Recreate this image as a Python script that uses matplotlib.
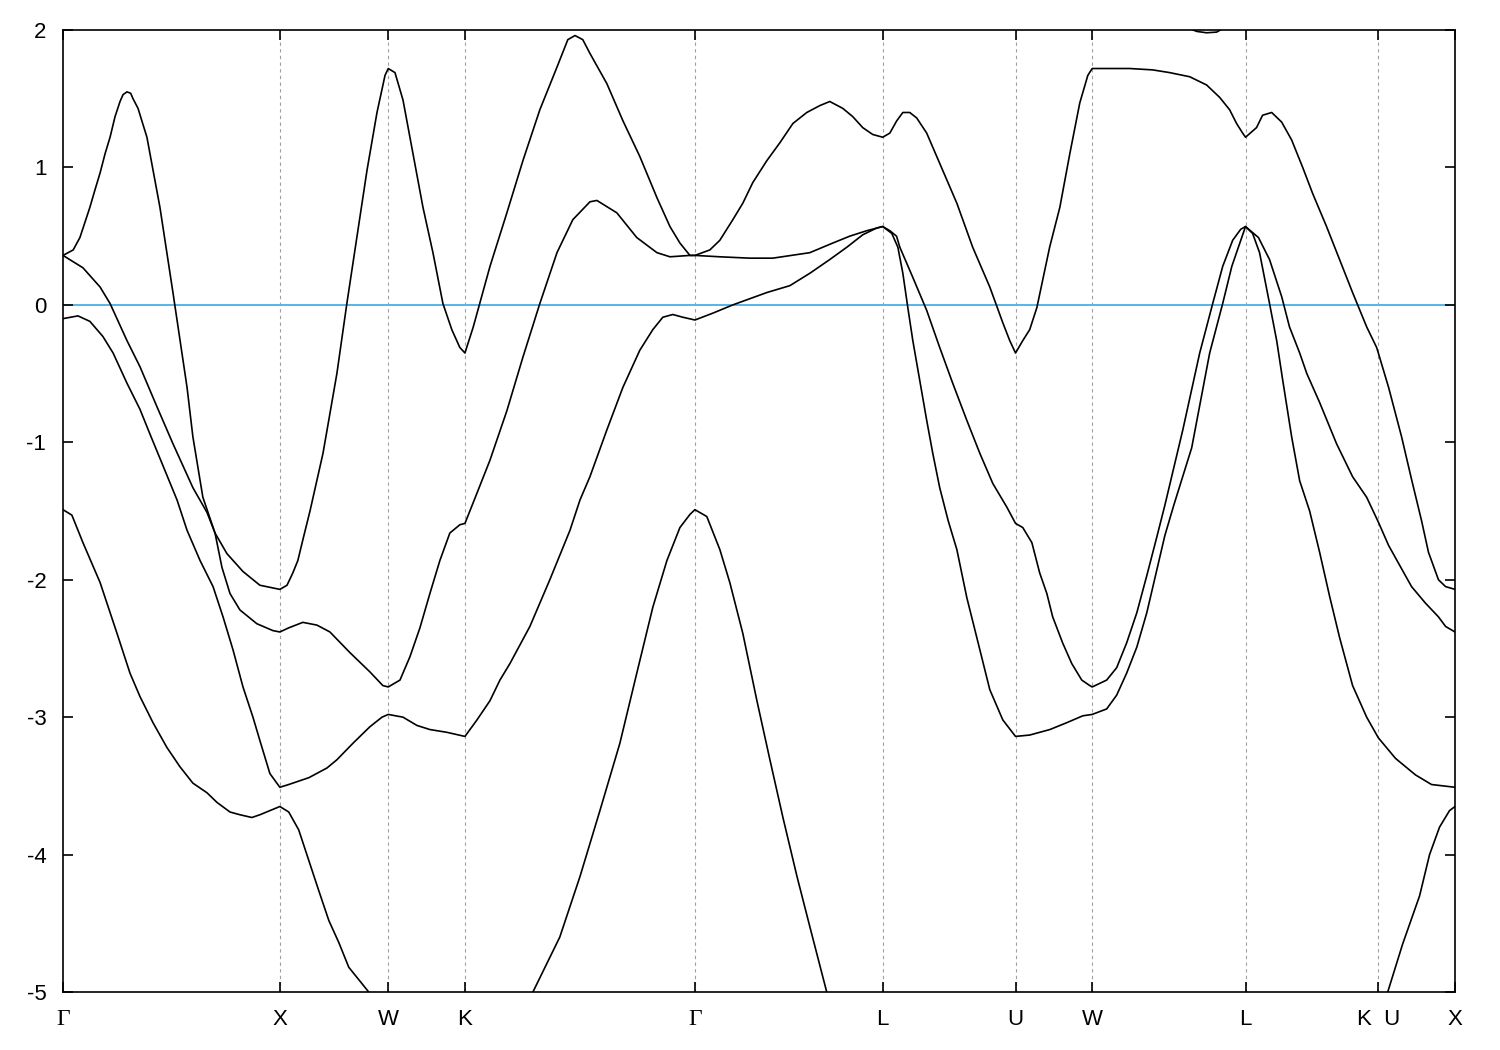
import numpy as np
import matplotlib
matplotlib.use('Agg')
import matplotlib.pyplot as plt

plt.rcParams['font.family'] = ['Liberation Sans', 'DejaVu Sans']
plt.rcParams['axes.unicode_minus'] = False

# high-symmetry points along the path (units of 2pi/a)
kpath_pos = [0.0, 1.0, 1.5, 1.8536, 2.9142, 3.7802, 4.3926, 4.7462, 5.4533, 6.0657, 6.4193]
kpath_lab = ['Γ', 'X', 'W', 'K', 'Γ', 'L', 'U', 'W', 'L', 'K  U', 'X']

# bands as (k, E) pairs; E in eV relative to E_F
band_a1 = [(0.0, -1.49), (0.041, -1.53), (0.092, -1.73), (0.171, -2.02), (0.249, -2.39), (0.309, -2.68),
           (0.355, -2.85), (0.415, -3.04), (0.479, -3.22), (0.539, -3.36), (0.599, -3.48), (0.664, -3.55),
           (0.710, -3.62), (0.770, -3.69), (0.816, -3.71), (0.871, -3.73), (0.908, -3.71), (0.954, -3.68),
           (1.0, -3.65), (1.041, -3.69), (1.087, -3.82), (1.133, -4.04), (1.179, -4.26), (1.226, -4.48),
           (1.272, -4.64), (1.318, -4.82), (1.364, -4.91), (1.410, -5.0)]
band_a2 = [(2.167, -5.0), (2.291, -4.60), (2.384, -4.16), (2.476, -3.68), (2.568, -3.19), (2.646, -2.68),
           (2.720, -2.20), (2.785, -1.86), (2.845, -1.62), (2.891, -1.525), (2.914, -1.49), (2.969, -1.54),
           (3.029, -1.78), (3.075, -2.02), (3.135, -2.39), (3.200, -2.88), (3.260, -3.31), (3.320, -3.73),
           (3.385, -4.16), (3.445, -4.53), (3.522, -5.0)]
band_a3 = [(6.109, -5.0), (6.178, -4.65), (6.256, -4.30), (6.302, -4.00), (6.348, -3.80), (6.394, -3.68),
           (6.4193, -3.65)]

band_b = [(0.0, -0.10), (0.069, -0.08), (0.124, -0.12), (0.184, -0.23), (0.231, -0.35), (0.295, -0.57),
          (0.355, -0.76), (0.401, -0.94), (0.461, -1.17), (0.526, -1.42), (0.572, -1.64), (0.632, -1.86),
          (0.692, -2.05), (0.738, -2.27), (0.784, -2.51), (0.830, -2.78), (0.876, -3.00), (0.908, -3.17),
          (0.954, -3.41), (1.0, -3.51),
          (1.041, -3.49), (1.134, -3.44), (1.217, -3.37), (1.263, -3.31), (1.337, -3.19), (1.415, -3.07),
          (1.471, -3.00), (1.5, -2.98), (1.568, -3.00), (1.632, -3.06), (1.692, -3.09), (1.770, -3.11),
          (1.8536, -3.14),
          (1.909, -3.02), (1.969, -2.88), (2.015, -2.73), (2.061, -2.61), (2.153, -2.34), (2.245, -2.00),
          (2.338, -1.64), (2.384, -1.42), (2.430, -1.25), (2.508, -0.91), (2.582, -0.60), (2.660, -0.33),
          (2.720, -0.18), (2.766, -0.09), (2.812, -0.07), (2.859, -0.09), (2.9142, -0.11),
          (2.997, -0.06), (3.089, 0.00), (3.246, 0.09), (3.352, 0.14), (3.444, 0.23), (3.536, 0.33),
          (3.615, 0.42), (3.688, 0.51), (3.753, 0.56), (3.7802, 0.57),
          (3.822, 0.52), (3.850, 0.42), (3.873, 0.23), (3.896, -0.02), (3.919, -0.26), (3.951, -0.55),
          (3.983, -0.84), (4.011, -1.08), (4.043, -1.33), (4.082, -1.57), (4.122, -1.78), (4.168, -2.13),
          (4.214, -2.42), (4.274, -2.80), (4.334, -3.02), (4.3926, -3.14),
          (4.458, -3.13), (4.551, -3.09), (4.629, -3.04), (4.703, -2.99), (4.7462, -2.98),
          (4.813, -2.94), (4.859, -2.84), (4.905, -2.68), (4.952, -2.49), (4.998, -2.24), (5.044, -1.93),
          (5.081, -1.68), (5.122, -1.46), (5.205, -1.04), (5.288, -0.35), (5.348, 0.01), (5.390, 0.28),
          (5.427, 0.45), (5.4533, 0.57),
          (5.486, 0.52), (5.518, 0.38), (5.564, 0.01), (5.597, -0.26), (5.625, -0.55), (5.666, -0.96),
          (5.703, -1.28), (5.749, -1.50), (5.795, -1.80), (5.841, -2.12), (5.887, -2.42), (5.947, -2.77),
          (6.012, -3.00), (6.0657, -3.15),
          (6.145, -3.30), (6.237, -3.42), (6.311, -3.49), (6.4193, -3.51)]

band_c = [(0.0, 0.36), (0.092, 0.27), (0.171, 0.13), (0.217, 0.01), (0.295, -0.26), (0.355, -0.45),
          (0.433, -0.74), (0.507, -1.01), (0.599, -1.33), (0.664, -1.51), (0.701, -1.66), (0.733, -1.91),
          (0.770, -2.10), (0.816, -2.22), (0.894, -2.32), (0.968, -2.37), (1.0, -2.38),
          (1.041, -2.35), (1.106, -2.31), (1.171, -2.33), (1.231, -2.38), (1.323, -2.53), (1.415, -2.67),
          (1.475, -2.77), (1.5, -2.78), (1.554, -2.73), (1.600, -2.56), (1.646, -2.35), (1.692, -2.10),
          (1.738, -1.86), (1.784, -1.66), (1.830, -1.60), (1.8536, -1.59),
          (1.909, -1.37), (1.969, -1.13), (2.047, -0.77), (2.121, -0.38), (2.199, 0.01), (2.278, 0.38),
          (2.351, 0.62), (2.430, 0.75), (2.462, 0.76), (2.554, 0.67), (2.646, 0.49), (2.739, 0.38),
          (2.799, 0.35), (2.891, 0.36), (2.9142, 0.36),
          (3.029, 0.35), (3.167, 0.34), (3.273, 0.34), (3.444, 0.38), (3.550, 0.45), (3.628, 0.50),
          (3.707, 0.54), (3.7802, 0.57),
          (3.813, 0.54), (3.844, 0.50), (3.859, 0.42), (3.919, 0.20), (3.983, -0.04), (4.043, -0.31),
          (4.103, -0.57), (4.168, -0.84), (4.228, -1.08), (4.288, -1.30), (4.352, -1.47), (4.3926, -1.59),
          (4.426, -1.62), (4.468, -1.73), (4.504, -1.95), (4.537, -2.10), (4.564, -2.27), (4.610, -2.46),
          (4.652, -2.61), (4.698, -2.73), (4.735, -2.77), (4.7462, -2.78),
          (4.813, -2.73), (4.859, -2.64), (4.905, -2.46), (4.952, -2.24), (4.998, -1.97), (5.044, -1.69),
          (5.081, -1.46), (5.164, -0.91), (5.242, -0.35), (5.302, 0.01), (5.348, 0.28), (5.394, 0.47),
          (5.431, 0.55), (5.4533, 0.57),
          (5.513, 0.49), (5.564, 0.33), (5.620, 0.06), (5.656, -0.16), (5.703, -0.35), (5.736, -0.50),
          (5.795, -0.71), (5.873, -1.01), (5.947, -1.25), (6.012, -1.40), (6.0657, -1.58),
          (6.113, -1.75), (6.173, -1.92), (6.219, -2.05), (6.283, -2.17), (6.343, -2.27), (6.376, -2.34),
          (6.4193, -2.38)]

band_d = [(0.0, 0.36), (0.047, 0.40), (0.078, 0.49), (0.101, 0.60), (0.124, 0.71), (0.148, 0.84),
          (0.171, 0.96), (0.194, 1.10), (0.217, 1.22), (0.240, 1.37), (0.263, 1.48), (0.277, 1.53),
          (0.295, 1.55), (0.312, 1.54), (0.323, 1.50), (0.346, 1.43), (0.387, 1.22), (0.415, 0.98),
          (0.447, 0.71), (0.479, 0.38), (0.507, 0.09), (0.539, -0.25), (0.572, -0.60), (0.599, -0.96),
          (0.645, -1.40), (0.701, -1.66), (0.756, -1.81), (0.830, -1.94), (0.908, -2.04), (1.0, -2.07),
          (1.033, -2.04), (1.060, -1.95), (1.083, -1.86), (1.106, -1.71), (1.139, -1.50), (1.199, -1.08),
          (1.263, -0.50), (1.309, 0.01), (1.355, 0.49), (1.402, 0.98), (1.448, 1.40), (1.485, 1.67),
          (1.5, 1.72), (1.531, 1.69), (1.568, 1.49), (1.614, 1.10), (1.660, 0.71), (1.706, 0.38),
          (1.752, 0.01), (1.793, -0.18), (1.830, -0.31), (1.8536, -0.35),
          (1.892, -0.16), (1.936, 0.09), (1.969, 0.28), (2.047, 0.67), (2.121, 1.05), (2.199, 1.42),
          (2.278, 1.73), (2.328, 1.93), (2.361, 1.96), (2.397, 1.93), (2.430, 1.83), (2.508, 1.61),
          (2.582, 1.34), (2.660, 1.08), (2.739, 0.78), (2.799, 0.57), (2.845, 0.45), (2.891, 0.36),
          (2.9142, 0.36),
          (2.983, 0.40), (3.029, 0.47), (3.089, 0.62), (3.135, 0.74), (3.181, 0.89), (3.246, 1.05),
          (3.306, 1.18), (3.366, 1.32), (3.430, 1.40), (3.490, 1.45), (3.536, 1.48), (3.596, 1.43),
          (3.642, 1.37), (3.688, 1.29), (3.734, 1.24), (3.7802, 1.22),
          (3.813, 1.25), (3.845, 1.34), (3.873, 1.40), (3.905, 1.40), (3.937, 1.36), (3.983, 1.25),
          (4.043, 1.03), (4.122, 0.74), (4.195, 0.42), (4.274, 0.13), (4.334, -0.13), (4.366, -0.26),
          (4.3926, -0.35),
          (4.426, -0.26), (4.458, -0.18), (4.491, -0.02), (4.518, 0.18), (4.550, 0.42), (4.597, 0.71),
          (4.643, 1.10), (4.689, 1.47), (4.726, 1.67), (4.7462, 1.72),
          (4.827, 1.72), (4.919, 1.72), (5.025, 1.71), (5.104, 1.69), (5.196, 1.66), (5.274, 1.60),
          (5.334, 1.51), (5.380, 1.42), (5.412, 1.32), (5.440, 1.25), (5.4533, 1.22),
          (5.504, 1.29), (5.532, 1.38), (5.574, 1.40), (5.620, 1.33), (5.666, 1.20), (5.717, 1.00),
          (5.763, 0.81), (5.827, 0.57), (5.887, 0.33), (5.947, 0.09), (6.012, -0.16), (6.058, -0.31),
          (6.0657, -0.35),
          (6.113, -0.60), (6.173, -0.96), (6.219, -1.27), (6.265, -1.57), (6.297, -1.80), (6.343, -2.00),
          (6.376, -2.05), (6.4193, -2.07)]

# small piece of the next band peeking in at the top
band_e = [(5.164, 2.03), (5.228, 1.99), (5.274, 1.98), (5.320, 1.985), (5.371, 2.03)]

bands = [band_a1, band_a2, band_a3, band_b, band_c, band_d, band_e]

fig = plt.figure(figsize=(15, 10.5), dpi=100)
ax = fig.add_axes([0.042, 0.0552, 0.928, 0.9162])

# dashed lines at the high-symmetry points
for p in kpath_pos[1:-1]:
    ax.axvline(p, color='#a0a0a0', lw=0.8, ls=(0, (3, 3)), zorder=0)

ax.axhline(0, color='#56b4e9', lw=1.4, zorder=1)

for band in bands:
    k, e = zip(*band)
    ax.plot(k, e, color='black', lw=1.2, zorder=2)

ax.set_xlim(kpath_pos[0], kpath_pos[-1])
ax.set_ylim(-5, 2)
ax.set_xticks(kpath_pos, kpath_lab)
ax.set_yticks(range(-5, 3))
ax.tick_params(direction='in', length=7, width=1.2, top=True, right=True, labelsize=16)
ax.tick_params(axis='x', pad=24)
ax.tick_params(axis='y', pad=12)
for s in ax.spines.values():
    s.set_linewidth(1.2)

# put all k labels on a common baseline, gamma in a serif face
for lbl in ax.get_xticklabels():
    lbl.set_verticalalignment('baseline')
    if lbl.get_text() == 'Γ':
        lbl.set_fontfamily('Liberation Serif')
        lbl.set_fontsize(17)

fig.savefig('out.png', dpi=100)
